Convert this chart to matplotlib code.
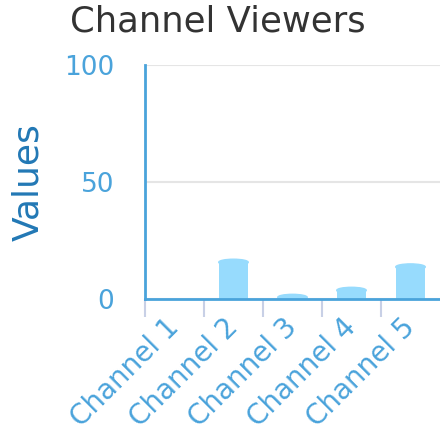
import matplotlib.pyplot as plt
from matplotlib.patches import Ellipse

channels = ['Channel 1', 'Channel 2', 'Channel 3', 'Channel 4', 'Channel 5']
viewers = [0, 17, 2, 5, 15]

bar_color = '#97dbfd'
axis_blue = '#4aa3db'

fig = plt.figure(figsize=(4.4, 4.33), dpi=100)
ax = fig.add_axes([0.3295, 0.3095, 0.6705, 0.5405])

x = list(range(len(channels)))
cap = 1.3  # height of rounded cap, data units
bar_w = 0.5
for xi, v in zip(x, viewers):
    if v <= 0:
        continue
    c = min(cap, v)
    ax.bar(xi, v - c, width=bar_w, color=bar_color, zorder=2)
    ax.add_patch(Ellipse((xi, v - c), bar_w, 2 * c, color=bar_color, zorder=2))

ax.set_xlim(-0.5, 4.5)
ax.set_ylim(0, 100)
ax.set_yticks([0, 50, 100])
ax.grid(axis='y', color='#e5e5e5', lw=1.5, zorder=0)

# labels at bar centres, tick marks at band starts
ax.set_xticks(x)
ax.set_xticklabels(channels, rotation=45, ha='right', va='center',
                   rotation_mode='anchor')
ax.set_xticks([i - 0.5 for i in x], minor=True)
ax.tick_params(axis='x', which='major', length=0, pad=17, labelsize=20,
               labelcolor=axis_blue)
ax.tick_params(axis='x', which='minor', length=13, width=1.5,
               color='#c8d0e6')
ax.tick_params(axis='y', length=0, pad=22, labelsize=19, labelcolor=axis_blue)

for s in ['top', 'right']:
    ax.spines[s].set_visible(False)
for s in ['left', 'bottom']:
    ax.spines[s].set_color(axis_blue)
    ax.spines[s].set_linewidth(2)

ax.set_ylabel('Values', fontsize=26, color='#2278b5', labelpad=14)
fig.suptitle('Channel Viewers', fontsize=25.5, color='#333333', x=0.495, y=0.99)

fig.savefig('out.png', dpi=100)
